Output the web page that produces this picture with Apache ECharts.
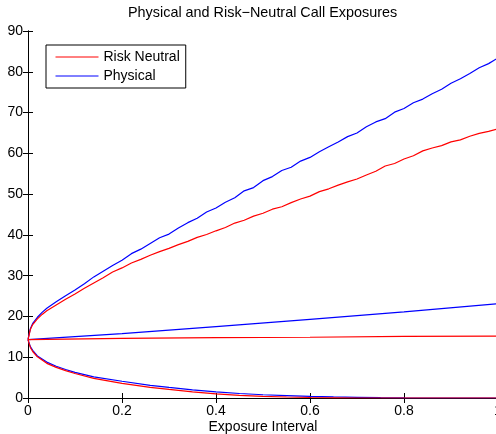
<!DOCTYPE html>
<html lang="en">
<head>
  <meta charset="UTF-8">
  <title>Call Exposures</title>
  <script src="https://cdn.jsdelivr.net/npm/echarts@6/dist/echarts.min.js"></script>
  <style>
    html, body { margin: 0; padding: 0; background: #fff; }
    #main { width: 496px; height: 434px; }
  </style>
</head>
<body>
  <div id="main"></div>
  <script>
    // upper quantile curves
    var upperX = [0, 0.005, 0.01, 0.02, 0.03, 0.04, 0.06, 0.08, 0.10, 0.12, 0.14, 0.16, 0.18, 0.20,
      0.22, 0.24, 0.26, 0.28, 0.30, 0.32, 0.34, 0.36, 0.38, 0.40, 0.42, 0.44, 0.46, 0.48, 0.50,
      0.52, 0.54, 0.56, 0.58, 0.60, 0.62, 0.64, 0.66, 0.68, 0.70, 0.72, 0.74, 0.76, 0.78, 0.80,
      0.82, 0.84, 0.86, 0.88, 0.90, 0.92, 0.94, 0.96, 0.98, 1.00]
    var blueUpper = [14.3, 17.0, 18.3, 19.8, 21.0, 22.0, 23.6, 25.1, 26.5, 28.0, 29.7, 31.1, 32.5, 33.8,
      35.4, 36.5, 37.9, 39.3, 40.2, 41.7, 43.0, 44.1, 45.6, 46.6, 48.0, 49.1, 50.8, 51.6, 53.3,
      54.3, 55.8, 56.6, 58.1, 59.0, 60.4, 61.6, 62.8, 64.1, 65.0, 66.5, 67.7, 68.5, 70.1, 71.0,
      72.4, 73.3, 74.6, 75.7, 77.2, 78.3, 79.6, 81.0, 82.0, 83.4]
    var redUpper = [14.3, 16.8, 18.0, 19.4, 20.5, 21.4, 22.8, 24.2, 25.5, 26.9, 28.2, 29.5, 30.9, 31.9,
      33.1, 34.0, 35.0, 35.9, 36.7, 37.6, 38.4, 39.4, 40.1, 41.0, 41.8, 42.9, 43.6, 44.6, 45.3,
      46.3, 46.9, 47.9, 48.8, 49.5, 50.6, 51.3, 52.2, 53.0, 53.7, 54.7, 55.6, 56.9, 57.5, 58.6,
      59.4, 60.6, 61.3, 61.9, 62.8, 63.3, 64.2, 64.9, 65.4, 66.0]

    // mean curves
    var midX = [0, 0.2, 0.4, 0.6, 0.8, 1.0]
    var blueMid = [14.3, 15.8, 17.5, 19.3, 21.1, 23.1]
    var redMid = [14.3, 14.6, 14.8, 14.9, 15.1, 15.2]

    // lower quantile curves
    var lowerX = [0, 0.005, 0.01, 0.02, 0.04, 0.06, 0.08, 0.10, 0.14, 0.20, 0.26, 0.30, 0.35, 0.40,
      0.45, 0.50, 0.55, 0.60, 0.65, 0.70, 0.75, 0.80, 0.90, 1.00]
    var blueLower = [14.3, 12.6, 11.7, 10.3, 8.8, 7.8, 7.0, 6.3, 5.2, 4.1, 3.1, 2.6, 2.0, 1.5,
      1.1, 0.8, 0.6, 0.4, 0.28, 0.17, 0.08, 0.02, 0, 0]
    var redLower = [14.3, 12.4, 11.4, 10.1, 8.5, 7.5, 6.7, 6.0, 4.8, 3.6, 2.6, 2.1, 1.5, 1.0,
      0.65, 0.4, 0.25, 0.12, 0.05, 0, 0, 0, 0, 0]

    function pairs(xs, ys) {
      return xs.map(function (x, i) { return [x, ys[i]] })
    }

    var font = 'Arial'

    function line(name, color, xs, ys) {
      return {
        name: name,
        type: 'line',
        data: pairs(xs, ys),
        symbol: 'none',
        lineStyle: { color: color, width: 1.2 },
        itemStyle: { color: color },
        z: 3
      }
    }

    var myChart = echarts.init(document.getElementById('main'))
    var axisBase = {
      axisLine: { show: true, lineStyle: { color: '#000', width: 1 } },
      axisTick: { show: true, inside: true, length: 5, lineStyle: { color: '#000' } },
      splitLine: { show: false }
    }
    myChart.setOption({
      animation: false,
      backgroundColor: '#fff',
      title: {
        text: 'Physical and Risk\u2212Neutral Call Exposures',
        left: 128,
        top: 6,
        padding: 0,
        textStyle: { fontFamily: font, fontSize: 14.4, fontWeight: 'normal', color: '#000' }
      },
      legend: {
        data: ['Risk Neutral', 'Physical'],
        orient: 'vertical',
        left: 46,
        top: 45,
        padding: [5, 6, 5, 9],
        itemWidth: 43,
        itemHeight: 14,
        itemGap: 5,
        itemStyle: { opacity: 0 },
        lineStyle: { width: 1 },
        borderColor: '#000',
        borderWidth: 1,
        borderRadius: 0,
        backgroundColor: '#fff',
        textStyle: { fontFamily: font, fontSize: 14, color: '#000' }
      },
      grid: { left: 28, top: 31, width: 470, height: 367, outerBoundsMode: 'none', containLabel: false },
      xAxis: [
        Object.assign({
          type: 'value', min: 0, max: 1, interval: 0.2,
          name: 'Exposure Interval', nameLocation: 'middle', nameGap: 22,
          nameMoveOverlap: false,
          nameTextStyle: { fontFamily: font, fontSize: 14, color: '#000' },
          axisLabel: { fontFamily: font, fontSize: 14, color: '#000', margin: 6 }
        }, axisBase),
        Object.assign({
          type: 'value', min: 0, max: 1, interval: 0.2, position: 'top',
          axisLabel: { show: false }
        }, axisBase)
      ],
      yAxis: [
        Object.assign({
          type: 'value', min: 0, max: 90, interval: 10,
          axisLabel: { fontFamily: font, fontSize: 14, color: '#000', margin: 5 }
        }, axisBase),
        Object.assign({
          type: 'value', min: 0, max: 90, interval: 10, position: 'right',
          axisLabel: { show: false }
        }, axisBase)
      ],
      series: [
        line('Physical', '#0000ff', upperX, blueUpper),
        line('Physical', '#0000ff', midX, blueMid),
        line('Physical', '#0000ff', lowerX, blueLower),
        line('Risk Neutral', '#ff0000', upperX, redUpper),
        line('Risk Neutral', '#ff0000', midX, redMid),
        line('Risk Neutral', '#ff0000', lowerX, redLower)
      ]
    })
  </script>
</body>
</html>
